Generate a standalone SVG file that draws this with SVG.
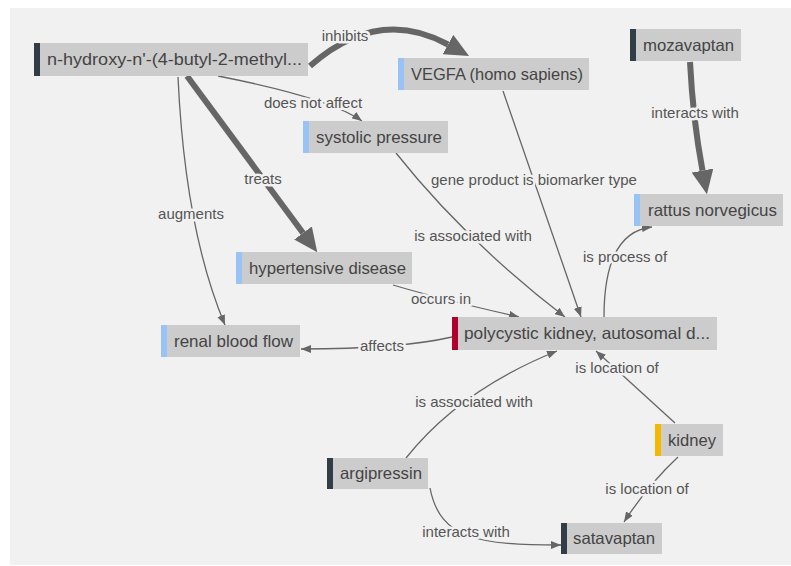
<svg xmlns="http://www.w3.org/2000/svg" width="791" height="566" viewBox="0 0 791 566">
<defs>
<style>
.nbg{fill:#cccccc}
.bar-d{fill:#333d47}
.bar-b{fill:#99c2f7}
.bar-r{fill:#b0002e}
.bar-o{fill:#f6b700}
.nt{font-family:"Liberation Sans",Arial,sans-serif;font-size:16.5px;fill:#444444}
.e{fill:none;stroke:#666666;stroke-width:1.3}
.et{fill:none;stroke:#666666;stroke-width:6}
.el{font-family:"Liberation Sans",Arial,sans-serif;font-size:15px;fill:#555555;text-anchor:middle;stroke:#f1f1f1;stroke-width:5;paint-order:stroke;stroke-linejoin:round}
</style>
<marker id="a" viewBox="0 0 10 8" refX="10" refY="4" markerWidth="10" markerHeight="8" markerUnits="userSpaceOnUse" orient="auto">
<path d="M0,0 L10,4 L0,8 Z" fill="#666666"/>
</marker>
<marker id="A" viewBox="0 0 24 22" refX="0" refY="11" markerWidth="24" markerHeight="22" markerUnits="userSpaceOnUse" orient="auto">
<path d="M0,0 L24,11 L0,22 Z" fill="#666666"/>
</marker>
</defs>
<rect x="10" y="8" width="781" height="557" fill="#f1f1f1"/>
<g id="connectors">
<path class="et" d="M310,66 Q378,6 448,44.5" marker-end="url(#A)"/>
<path class="et" d="M187,76 L303,233" marker-end="url(#A)"/>
<path class="et" d="M690,62 Q693,120 702.5,170.6" marker-end="url(#A)"/>
<path class="e" d="M218,76 Q330,98 362,121" marker-end="url(#a)"/>
<path class="e" d="M178,77 Q185,230 225,325" marker-end="url(#a)"/>
<path class="e" d="M503,91 L581,317" marker-end="url(#a)"/>
<path class="e" d="M396,153 Q465,240 565,317" marker-end="url(#a)"/>
<path class="e" d="M604,317 Q604,232 652,227" marker-end="url(#a)"/>
<path class="e" d="M393,285 Q440,299 519,317" marker-end="url(#a)"/>
<path class="e" d="M452,337 Q400,349 301,349" marker-end="url(#a)"/>
<path class="e" d="M675,423 L596,351" marker-end="url(#a)"/>
<path class="e" d="M406,458 Q460,390 557,351" marker-end="url(#a)"/>
<path class="e" d="M678,457 Q648,485 624,522" marker-end="url(#a)"/>
<path class="e" d="M430,488 C440,540 480,545 561,545" marker-end="url(#a)"/>
<text class="el" x="345" y="41">inhibits</text>
<text class="el" x="313" y="108">does not affect</text>
<text class="el" x="263" y="184">treats</text>
<text class="el" x="191" y="219">augments</text>
<text class="el" x="534" y="185">gene product is biomarker type</text>
<text class="el" x="695" y="118">interacts with</text>
<text class="el" x="473" y="241">is associated with</text>
<text class="el" x="625" y="262">is process of</text>
<text class="el" x="441" y="304">occurs in</text>
<text class="el" x="382" y="351">affects</text>
<text class="el" x="617" y="373">is location of</text>
<text class="el" x="474" y="407">is associated with</text>
<text class="el" x="647" y="494">is location of</text>
<text class="el" x="466" y="537">interacts with</text>
</g>
<g id="n-hydroxy">
<rect class="nbg" x="34" y="43" width="274" height="33"/><rect class="bar-d" x="34" y="43" width="6" height="33"/>
<text class="nt" x="47" y="65" textLength="255" lengthAdjust="spacingAndGlyphs">n-hydroxy-n'-(4-butyl-2-methyl...</text>
</g>
<g id="vegfa">
<rect class="nbg" x="398" y="58" width="191" height="32"/><rect class="bar-b" x="398" y="58" width="6" height="32"/>
<text class="nt" x="411" y="80" textLength="172" lengthAdjust="spacingAndGlyphs">VEGFA (homo sapiens)</text>
</g>
<g id="mozavaptan">
<rect class="nbg" x="630" y="29" width="111" height="32"/><rect class="bar-d" x="630" y="29" width="6" height="32"/>
<text class="nt" x="643" y="51" textLength="91" lengthAdjust="spacingAndGlyphs">mozavaptan</text>
</g>
<g id="systolic-pressure">
<rect class="nbg" x="303" y="121" width="145" height="32"/><rect class="bar-b" x="303" y="121" width="6" height="32"/>
<text class="nt" x="316" y="143" textLength="126" lengthAdjust="spacingAndGlyphs">systolic pressure</text>
</g>
<g id="rattus-norvegicus">
<rect class="nbg" x="634" y="194" width="149" height="32"/><rect class="bar-b" x="634" y="194" width="6" height="32"/>
<text class="nt" x="648" y="216" textLength="129" lengthAdjust="spacingAndGlyphs">rattus norvegicus</text>
</g>
<g id="hypertensive-disease">
<rect class="nbg" x="236" y="252" width="176" height="32"/><rect class="bar-b" x="236" y="252" width="6" height="32"/>
<text class="nt" x="249" y="274" textLength="157" lengthAdjust="spacingAndGlyphs">hypertensive disease</text>
</g>
<g id="renal-blood-flow">
<rect class="nbg" x="161" y="325" width="139" height="32"/><rect class="bar-b" x="161" y="325" width="6" height="32"/>
<text class="nt" x="174" y="347" textLength="119" lengthAdjust="spacingAndGlyphs">renal blood flow</text>
</g>
<g id="polycystic-kidney">
<rect class="nbg" x="452" y="317" width="265" height="33"/><rect class="bar-r" x="452" y="317" width="6" height="33"/>
<text class="nt" x="464" y="339" textLength="246" lengthAdjust="spacingAndGlyphs">polycystic kidney, autosomal d...</text>
</g>
<g id="argipressin">
<rect class="nbg" x="327" y="458" width="101" height="31"/><rect class="bar-d" x="327" y="458" width="6" height="31"/>
<text class="nt" x="340" y="479" textLength="82" lengthAdjust="spacingAndGlyphs">argipressin</text>
</g>
<g id="kidney">
<rect class="nbg" x="655" y="424" width="68" height="32"/><rect class="bar-o" x="655" y="424" width="6" height="32"/>
<text class="nt" x="668" y="446" textLength="48" lengthAdjust="spacingAndGlyphs">kidney</text>
</g>
<g id="satavaptan">
<rect class="nbg" x="561" y="523" width="101" height="31"/><rect class="bar-d" x="561" y="523" width="6" height="31"/>
<text class="nt" x="573" y="544" textLength="82" lengthAdjust="spacingAndGlyphs">satavaptan</text>
</g>
</svg>
